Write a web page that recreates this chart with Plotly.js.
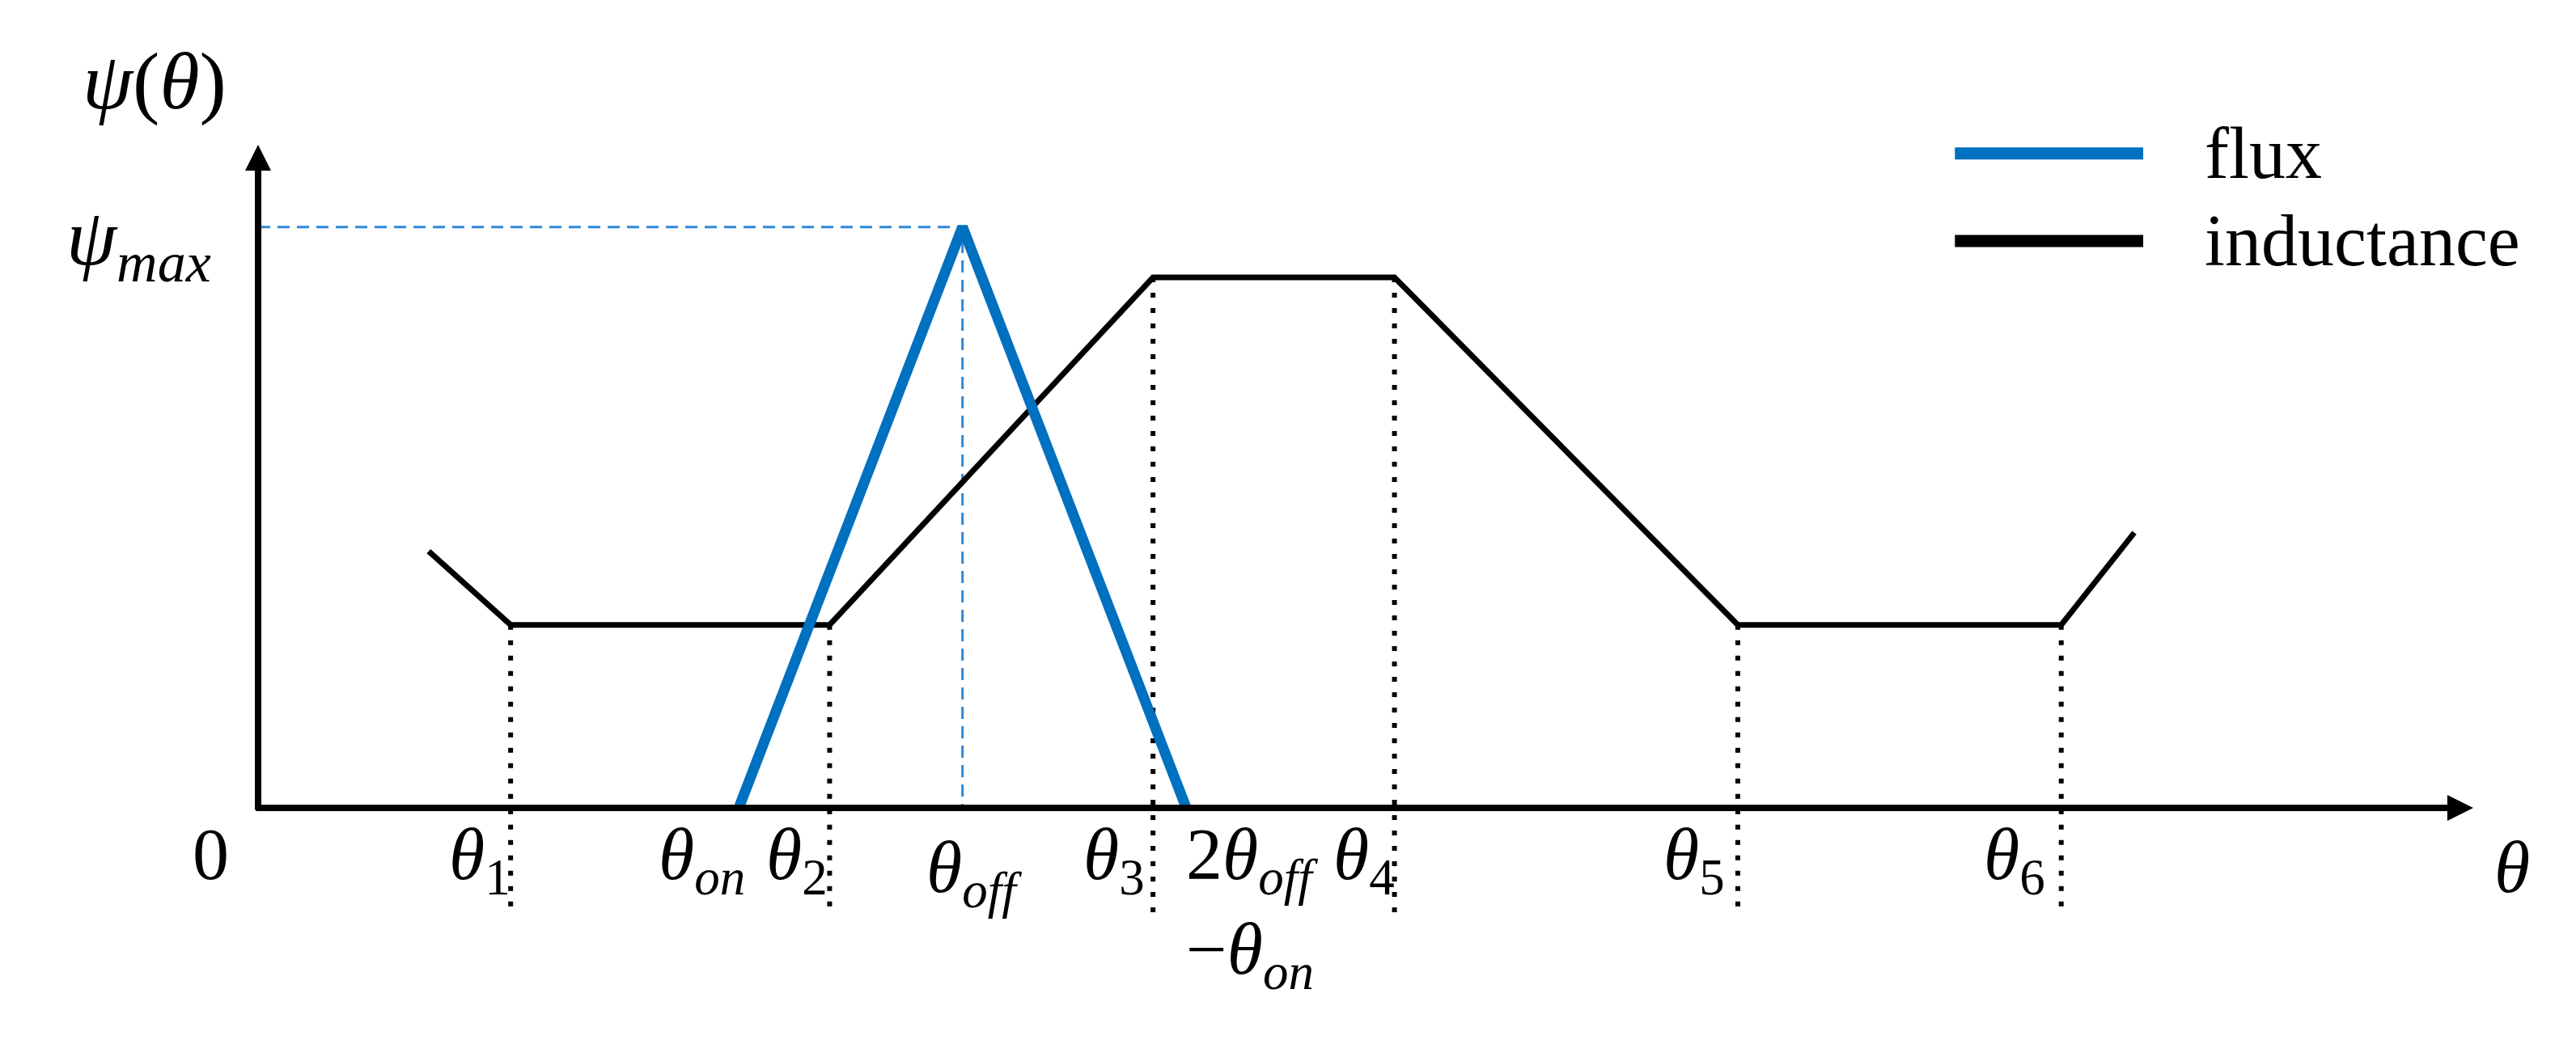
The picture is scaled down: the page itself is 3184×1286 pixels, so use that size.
<!DOCTYPE html>
<html>
<head>
<meta charset="utf-8">
<script src="https://cdn.plot.ly/plotly-3.0.1.min.js"></script>
<style>html,body{margin:0;padding:0;background:#fff;}#chart{width:3184px;height:1286px;}</style>
</head>
<body>
<div id="chart"></div>
<script>
// ---- data (schematic units: theta 0..100 along the axis, psi 0..100 up the axis) ----
const seriesNames = ['flux', 'inductance'];

const fluxTheta = [21.7, 31.8, 41.9];
const fluxValue = [0, 87.6, 0];

const inductanceTheta = [7.7, 11.4, 25.8, 40.4, 51.3, 66.8, 81.4, 84.7];
const inductanceValue = [38.7, 27.6, 27.6, 80.0, 80.0, 27.6, 27.6, 41.5];

const psiMax = 87.6;
const thetaOff = 31.8;
const axisMax = 100;

const tickValues = [0, 11.4, 21.7, 25.8, 31.8, 40.4, 41.9, 51.3, 66.8, 81.4];
const tickLabels = [
  '0',
  '<i>θ</i><sub>1</sub>',
  '<i>θ<sub>on</sub></i>',
  '<i>θ</i><sub>2</sub>',
  '<i>θ<sub>off</sub></i>',
  '<i>θ</i><sub>3</sub>',
  '2<i>θ<sub>off</sub></i><br>−<i>θ<sub>on</sub></i>',
  '<i>θ</i><sub>4</sub>',
  '<i>θ</i><sub>5</sub>',
  '<i>θ</i><sub>6</sub>'
];
const yAxisLabel = '<i>ψ</i>(<i>θ</i>)';
const yTickLabel = '<i>ψ<sub>max</sub></i>';
const xAxisLabel = '<i>θ</i>';

// ---- styling ----
const FONT = 'Liberation Serif, Times New Roman, serif';
const FLUX_BLUE = '#0070C0';
const GUIDE_BLUE = '#2F88D8';
const LABEL_SIZE = 90;
const labelFont = { family: FONT, size: LABEL_SIZE, color: '#000' };

// dotted guide lines under the inductance corners (indices 1..6)
const dotX = [], dotY = [];
for (let i = 1; i <= 6; i++) {
  dotX.push(inductanceTheta[i], inductanceTheta[i], null);
  dotY.push(inductanceValue[i], -16, null);
}

const traces = [
  { x: dotX, y: dotY, mode: 'lines', line: { color: '#000', width: 6, dash: '6px,13px' },
    hoverinfo: 'skip', showlegend: false },
  { x: [0, thetaOff, thetaOff], y: [psiMax, psiMax, 0], mode: 'lines',
    line: { color: GUIDE_BLUE, width: 3, dash: '15px,9px' }, hoverinfo: 'skip', showlegend: false },
  { x: inductanceTheta, y: inductanceValue, mode: 'lines', name: seriesNames[1],
    line: { color: '#000', width: 7 }, showlegend: false },
  { x: fluxTheta, y: fluxValue, mode: 'lines', name: seriesNames[0],
    line: { color: FLUX_BLUE, width: 13 }, showlegend: false }
];

// per-label placement (layout only)
const tickPlace = [
  { xanchor: 'right', xshift: -34, yshift: -6 },
  { xanchor: 'right', xshift: 2, yshift: -6 },
  { xanchor: 'right', xshift: 10, yshift: -6 },
  { xanchor: 'right', xshift: 0, yshift: -6 },
  { xanchor: 'center', xshift: 14, yshift: -22 },
  { xanchor: 'right', xshift: -8, yshift: -6 },
  { xanchor: 'left', xshift: -2, yshift: -6 },
  { xanchor: 'right', xshift: 2, yshift: -6 },
  { xanchor: 'right', xshift: -14, yshift: -6 },
  { xanchor: 'right', xshift: -18, yshift: -6 }
];

const annotations = [];
// axes with arrow heads
annotations.push({ x: axisMax, y: 0, ax: -0.15, ay: 0, xref: 'x', yref: 'y', axref: 'x', ayref: 'y',
  text: '', showarrow: true, arrowhead: 2, arrowsize: 0.8, arrowwidth: 8, arrowcolor: '#000' });
annotations.push({ x: 0, y: axisMax, ax: 0, ay: -0.5, xref: 'x', yref: 'y', axref: 'x', ayref: 'y',
  text: '', showarrow: true, arrowhead: 2, arrowsize: 0.8, arrowwidth: 8, arrowcolor: '#000' });

tickValues.forEach((v, i) => {
  const p = tickPlace[i];
  annotations.push({ x: v, y: 0, xref: 'x', yref: 'y', text: tickLabels[i], showarrow: false,
    xanchor: p.xanchor, yanchor: 'top', xshift: p.xshift, yshift: p.yshift, align: 'left',
    font: labelFont });
});
annotations.push({ x: axisMax, y: 0, xref: 'x', yref: 'y', text: xAxisLabel, showarrow: false,
  xanchor: 'left', yanchor: 'top', xshift: 24, yshift: -22, font: labelFont });
annotations.push({ x: 0, y: 109.6, xref: 'x', yref: 'y', text: yAxisLabel, showarrow: false,
  xanchor: 'center', yanchor: 'middle', xshift: -128,
  font: Object.assign({}, labelFont, { size: 100 }) });
annotations.push({ x: 0, y: psiMax, xref: 'x', yref: 'y', text: yTickLabel, showarrow: false,
  xanchor: 'right', yanchor: 'middle', xshift: -56, yshift: -20,
  font: Object.assign({}, labelFont, { size: 100 }) });

// legend (drawn manually so the key lines match the reference length)
const legendColors = [FLUX_BLUE, '#000'];
const legendRowY = [98.7, 85.5];
const shapes = [];
seriesNames.forEach((n, i) => {
  shapes.push({ type: 'line', xref: 'x', yref: 'y', x0: 76.6, x1: 85.1, y0: legendRowY[i], y1: legendRowY[i],
    line: { color: legendColors[i], width: 15 } });
  annotations.push({ x: 87.8, y: legendRowY[i], xref: 'x', yref: 'y', text: n, showarrow: false,
    xanchor: 'left', yanchor: 'middle', font: { family: FONT, size: 90, color: '#000' } });
});

const layout = {
  width: 3184, height: 1286,
  margin: { l: 0, r: 0, t: 0, b: 0 },
  paper_bgcolor: '#fff', plot_bgcolor: '#fff',
  showlegend: false,
  xaxis: { range: [-11.651, 104.638], visible: false, fixedrange: true },
  yaxis: { range: [-35.0, 121.83], visible: false, fixedrange: true },
  annotations: annotations,
  shapes: shapes
};

Plotly.newPlot('chart', traces, layout, { staticPlot: true });
</script>
</body>
</html>
